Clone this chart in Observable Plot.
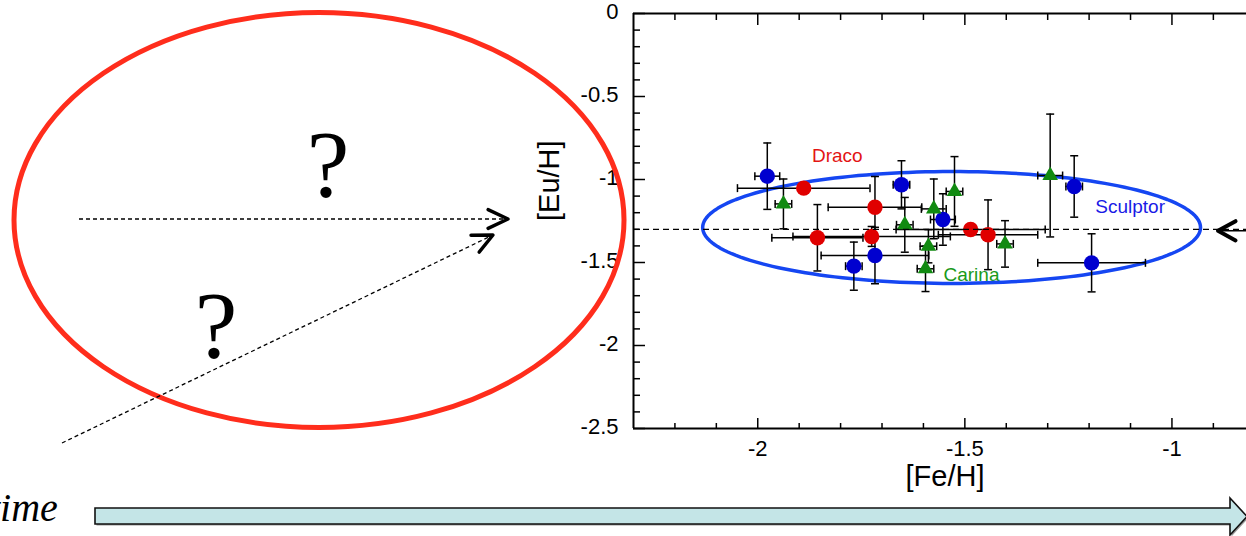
<!DOCTYPE html>
<html>
<head>
<meta charset="utf-8">
<script src="https://cdn.jsdelivr.net/npm/d3@7"></script>
<script src="https://cdn.jsdelivr.net/npm/@observablehq/plot@0.6"></script>
<style>
  html, body { margin: 0; padding: 0; background: #fff; overflow: hidden; }
  #wrap { position: relative; width: 1246px; height: 536px; }
  #wrap > svg { position: absolute; left: 0; top: 0; }
</style>
</head>
<body>
<div id="wrap"></div>
<script>
// ---- Measurements: [Fe/H], [Eu/H] and their uncertainties per dwarf galaxy ----
const sculptorFe    = [-1.977, -1.653, -1.553, -1.717, -1.768, -1.236, -1.194];
const sculptorEu    = [-0.980, -1.032, -1.241, -1.458, -1.522, -1.042, -1.502];
const sculptorFeErr = [0.03, 0.02, 0.03, 0.13, 0.02, 0.02, 0.13];
const sculptorEuErr = [0.20, 0.145, 0.155, 0.17, 0.145, 0.185, 0.175];

const dracoFe    = [-1.889, -1.717, -1.856, -1.725, -1.486, -1.444];
const dracoEu    = [-1.052, -1.167, -1.351, -1.343, -1.301, -1.333];
const dracoFeErr = [0.16, 0.113, 0.11, 0.19, 0.18, 0.12];
const dracoEuErr = [0, 0.185, 0.20, 0.06, 0, 0.21];

const carinaFe    = [-1.938, -1.575, -1.645, -1.525, -1.588, -1.595, -1.294, -1.403];
const carinaEu    = [-1.147, -1.177, -1.273, -1.072, -1.402, -1.538, -0.976, -1.388];
const carinaFeErr = [0.02, 0.03, 0.02, 0.02, 0.02, 0.02, 0.03, 0.02];
const carinaEuErr = [0.15, 0.18, 0.165, 0.21, 0.10, 0.137, 0.37, 0.14];

// Axis ticks
const xMajorTicks = [-2, -1.5, -1];
const xMinorTicks = [-2.2, -2.1, -1.9, -1.8, -1.7, -1.6, -1.4, -1.3, -1.2, -1.1, -0.9];
const yMajorTicks = [0, -0.5, -1, -1.5, -2, -2.5];
const yMinorTicks = [-0.1, -0.2, -0.3, -0.4, -0.6, -0.7, -0.8, -0.9, -1.1, -1.2, -1.3, -1.4,
                     -1.6, -1.7, -1.8, -1.9, -2.1, -2.2, -2.3, -2.4];

// Common [Eu/H] level shared by the three galaxies
const commonEu = -1.3;

// Region enclosing the Sculptor stars (centre and half-widths in data units)
const sculptorRegion = { fe: -1.532, eu: -1.289, dFe: 0.601, dEu: 0.337 };

// Galaxy names written next to their stars
const galaxyNames  = ["Draco", "Sculptor", "Carina"];
const galaxyNameFe = [-1.808, -1.101, -1.484];
const galaxyNameEu = [-0.855, -1.166, -1.577];

const galaxyColor = { Draco: "#e00000", Sculptor: "#0000cf", Carina: "#118a11" };
const galaxyText  = { Draco: "#e31414", Sculptor: "#1a1ae6", Carina: "#1a9a1a" };

function rowsOf(name, fe, eu, feErr, euErr) {
  return fe.map((v, i) => ({ galaxy: name, fe: v, eu: eu[i], feErr: feErr[i], euErr: euErr[i] }));
}
const stars = [
  ...rowsOf("Sculptor", sculptorFe, sculptorEu, sculptorFeErr, sculptorEuErr),
  ...rowsOf("Draco", dracoFe, dracoEu, dracoFeErr, dracoEuErr),
  ...rowsOf("Carina", carinaFe, carinaEu, carinaFeErr, carinaEuErr)
];
const withFeErr = stars.filter(d => d.feErr > 0);
const withEuErr = stars.filter(d => d.euErr > 0);

// End caps of the error bars
const hCaps = withEuErr.flatMap(d => [{ fe: d.fe, eu: d.eu - d.euErr }, { fe: d.fe, eu: d.eu + d.euErr }]);
const vCaps = withFeErr.flatMap(d => [{ fe: d.fe - d.feErr, eu: d.eu }, { fe: d.fe + d.feErr, eu: d.eu }]);
const hCapSymbol = { draw(ctx, size) { const r = Math.sqrt(size / Math.PI); ctx.moveTo(-r, 0); ctx.lineTo(r, 0); } };
const vCapSymbol = { draw(ctx, size) { const r = Math.sqrt(size / Math.PI); ctx.moveTo(0, -r); ctx.lineTo(0, r); } };

// Outline of the Sculptor region
const ring = d3.range(0, 361, 2).map(a => {
  const t = a * Math.PI / 180;
  return { fe: sculptorRegion.fe + sculptorRegion.dFe * Math.cos(t),
           eu: sculptorRegion.eu + sculptorRegion.dEu * Math.sin(t) };
});

const labels = galaxyNames.map((n, i) => ({ name: n, fe: galaxyNameFe[i], eu: galaxyNameEu[i] }));
const fmt = d => String(d);

const chart = Plot.plot({
  width: 1246,
  height: 536,
  marginLeft: 633,
  marginRight: 0,
  marginTop: 13,
  marginBottom: 108,
  x: { domain: [-2.3, -0.82] },
  y: { domain: [-2.5, 0] },
  style: { fontFamily: "'Liberation Sans', Arial, Helvetica, sans-serif", background: "transparent", overflow: "visible", color: "black" },
  marks: [
    // galaxy names
    Plot.text(labels, { x: "fe", y: "eu", text: "name", fontSize: 19, textAnchor: "middle",
      lineAnchor: "middle", fill: d => galaxyText[d.name] }),
    // Sculptor region
    Plot.line(ring, { x: "fe", y: "eu", stroke: "#1546f2", strokeWidth: 3.5, curve: "linear" }),
    // error bars
    Plot.ruleY(withFeErr, { y: "eu", x1: d => d.fe - d.feErr, x2: d => d.fe + d.feErr, stroke: "black", strokeWidth: 1.5 }),
    Plot.ruleX(withEuErr, { x: "fe", y1: d => d.eu - d.euErr, y2: d => d.eu + d.euErr, stroke: "black", strokeWidth: 1.5 }),
    Plot.dot(hCaps, { x: "fe", y: "eu", r: 4, symbol: hCapSymbol, stroke: "black", strokeWidth: 1.5 }),
    Plot.dot(vCaps, { x: "fe", y: "eu", r: 4, symbol: vCapSymbol, stroke: "black", strokeWidth: 1.5 }),
    // stars
    Plot.dot(stars.filter(d => d.galaxy !== "Carina"), { x: "fe", y: "eu", r: 7.7,
      fill: d => galaxyColor[d.galaxy], stroke: "none" }),
    Plot.dot(stars.filter(d => d.galaxy === "Carina"), { x: "fe", y: "eu", r: 5.8, symbol: "triangle",
      fill: d => galaxyColor[d.galaxy], stroke: "none" }),
    // common level
    Plot.ruleY([commonEu], { stroke: "black", strokeWidth: 1.3, strokeDasharray: "6,4" }),
    // frame
    Plot.ruleX([-2.3], { stroke: "black", strokeWidth: 2 }),
    Plot.ruleY([0, -2.5], { stroke: "black", strokeWidth: 2 }),
    // axes: inward ticks on left, bottom and top
    Plot.axisY(yMajorTicks, { anchor: "left", tickSize: -12, fill: "none", strokeWidth: 1.5, label: null }),
    Plot.axisY(yMinorTicks, { anchor: "left", tickSize: -7, fill: "none", strokeWidth: 1.5, label: null }),
    Plot.axisY(yMajorTicks, { anchor: "left", tickSize: 0, tickPadding: 15, tickFormat: fmt, fontSize: 22, dy: -1.5, label: null }),
    Plot.axisX(xMajorTicks, { anchor: "bottom", tickSize: -10, fill: "none", strokeWidth: 1.5, label: null }),
    Plot.axisX(xMinorTicks, { anchor: "bottom", tickSize: -5, fill: "none", strokeWidth: 1.5, label: null }),
    Plot.axisX(xMajorTicks, { anchor: "bottom", tickSize: 0, tickPadding: 12, tickFormat: fmt, fontSize: 22, label: null }),
    Plot.axisX(xMajorTicks, { anchor: "top", tickSize: -11, fill: "none", strokeWidth: 1.5, label: null }),
    Plot.axisX(xMinorTicks, { anchor: "top", tickSize: -6, fill: "none", strokeWidth: 1.5, label: null }),
    // axis titles
    Plot.text(["[Fe/H]"], { frameAnchor: "bottom", dy: 48, dx: 5, fontSize: 29, lineAnchor: "middle", text: d => d }),
    Plot.text(["[Eu/H]"], { frameAnchor: "left", dx: -84, rotate: -90, fontSize: 29, lineAnchor: "middle", text: d => d })
  ]
});
document.getElementById("wrap").appendChild(chart);

// ---- Schematic: unknown earlier evolution and the time axis ----
const yScale = chart.scale("y");
const sk = d3.select("#wrap").append("svg")
  .attr("width", 1246).attr("height", 536)
  .style("overflow", "visible").style("pointer-events", "none");

function chevron(g, tipX, tipY, angle, len, spread, width) {
  const back = angle + Math.PI;
  const a1 = back - spread, a2 = back + spread;
  g.append("path")
    .attr("d", `M${tipX + len * Math.cos(a1)},${tipY + len * Math.sin(a1)} L${tipX},${tipY} L${tipX + len * Math.cos(a2)},${tipY + len * Math.sin(a2)}`)
    .attr("fill", "none").attr("stroke", "black").attr("stroke-width", width)
    .attr("stroke-linecap", "round").attr("stroke-linejoin", "round");
}
function dashedArrow(x1, y1, x2, y2) {
  sk.append("line").attr("x1", x1).attr("y1", y1).attr("x2", x2).attr("y2", y2)
    .attr("stroke", "black").attr("stroke-width", 1.3).attr("stroke-dasharray", "4,3");
  chevron(sk, x2, y2, Math.atan2(y2 - y1, x2 - x1), 22, 0.44, 3.4);
}

// unknown region
sk.append("ellipse").attr("cx", 319).attr("cy", 220).attr("rx", 305).attr("ry", 207.5)
  .attr("fill", "none").attr("stroke", "#ff2d1c").attr("stroke-width", 5);
dashedArrow(79, 219, 508, 219);
dashedArrow(62, 443, 493, 235);
sk.selectAll("text.q").data([[328, 197], [216, 358]]).join("text")
  .attr("class", "q").attr("x", d => d[0]).attr("y", d => d[1])
  .attr("text-anchor", "middle").attr("font-family", "'Liberation Serif', 'Times New Roman', serif")
  .attr("font-size", 96).attr("fill", "black").text("?");

// arrow arriving at the common level from the right
const yCommon = yScale.apply(commonEu);
sk.append("line").attr("x1", 1222).attr("x2", 1260).attr("y1", yCommon + 2).attr("y2", yCommon + 2)
  .attr("stroke", "black").attr("stroke-width", 1.5);
chevron(sk, 1218, yCommon + 2, Math.PI, 20, 0.5, 4);

// time axis
const arrowPts = [[95, 508], [1230, 508], [1230, 498], [1247, 516.5], [1230, 535], [1230, 524], [95, 524]];
sk.append("polygon").attr("points", arrowPts.map(p => `${p[0] + 1.5},${p[1] + 1.5}`).join(" "))
  .attr("fill", "#9a9a9a");
sk.append("polygon").attr("points", arrowPts.map(p => p.join(",")).join(" "))
  .attr("fill", "#c4e5e7").attr("stroke", "#111").attr("stroke-width", 1.6);
sk.append("text").attr("x", -11).attr("y", 521)
  .attr("font-family", "'Liberation Serif', 'Times New Roman', serif").attr("font-style", "italic")
  .attr("font-size", 40).attr("fill", "black").text("time");
</script>
</body>
</html>
